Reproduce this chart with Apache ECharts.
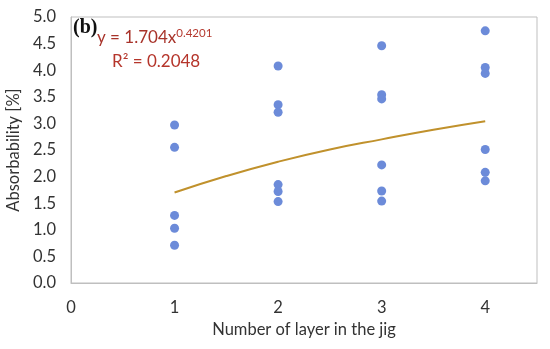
<!DOCTYPE html>
<html>
<head>
<meta charset="utf-8">
<script src="https://cdn.jsdelivr.net/npm/echarts@6/dist/echarts.min.js"></script>
<style>html,body{margin:0;padding:0;background:#fff;}#c{width:550px;height:349px;}</style>
</head>
<body>
<div id="c"></div>
<script>
const layers = [1,1,1,1,1, 2,2,2,2,2,2, 3,3,3,3,3,3, 4,4,4,4,4,4];
const absorbability = [2.97,2.55,1.27,1.03,0.71, 4.08,3.35,3.21,1.85,1.72,1.53, 4.46,3.54,3.46,2.22,1.73,1.54, 4.74,4.05,3.94,2.51,2.08,1.92];
const trendX = [1,1.5,2,2.5,3,3.5,4];
const trendY = [1.70,2.01,2.28,2.51,2.70,2.88,3.04];
const xTicks = [0,1,2,3,4];

const chart = echarts.init(document.getElementById('c'));
const font = 'Lato, "Open Sans", sans-serif';
chart.setOption({
  animation:false,
  grid:{left:71,right:13,top:17,bottom:66,show:true,borderColor:'#bfbfbf',borderWidth:1,
    containLabel:false,outerBoundsMode:'none'},
  xAxis:{type:'value',min:0,max:4.5,interval:1,
    name:'Number of layer in the jig',nameLocation:'middle',nameGap:37,
    nameTextStyle:{fontFamily:font,fontSize:16.5,color:'#333'},
    axisLine:{show:true,lineStyle:{color:'#bfbfbf'}},axisTick:{show:false},splitLine:{show:false},
    axisLabel:{fontFamily:font,fontSize:16.5,color:'#333',margin:16,
      formatter:v=>xTicks.indexOf(v)>=0?String(v):''}},
  yAxis:{type:'value',min:0,max:5,interval:0.5,
    name:'Absorbability [%]',nameLocation:'middle',nameGap:40,
    nameTextStyle:{fontFamily:font,fontSize:16.5,color:'#333'},
    axisLine:{show:true,lineStyle:{color:'#bfbfbf'}},axisTick:{show:false},splitLine:{show:false},
    axisLabel:{fontFamily:font,fontSize:16.5,color:'#333',margin:15,formatter:v=>v.toFixed(1)}},
  series:[
    {type:'scatter',data:layers.map((x,i)=>[x,absorbability[i]]),symbolSize:9,
      itemStyle:{color:'#6c8bd9',opacity:1}},
    {type:'line',data:trendX.map((x,i)=>[x,trendY[i]]),smooth:true,symbol:'none',
      lineStyle:{color:'#c0912c',width:2}}
  ],
  graphic:[
    {type:'text',left:73,top:18,style:{text:'(b)',font:'bold 20px "Liberation Serif", serif',fill:'#111'}},
    {type:'text',left:97,top:27,style:{text:'{a|y = 1.704x}{s|0.4201}',rich:{
      a:{fontFamily:font,fontSize:17,fill:'#a8332a',color:'#a8332a',lineHeight:22},
      s:{fontFamily:font,fontSize:11.5,fill:'#b53a30',color:'#b53a30',verticalAlign:'top',lineHeight:22}}}},
    {type:'text',left:112,top:53,style:{text:'R² = 0.2048',fontFamily:font,fontSize:17,fill:'#b5352b'}}
  ]
});
</script>
</body>
</html>
